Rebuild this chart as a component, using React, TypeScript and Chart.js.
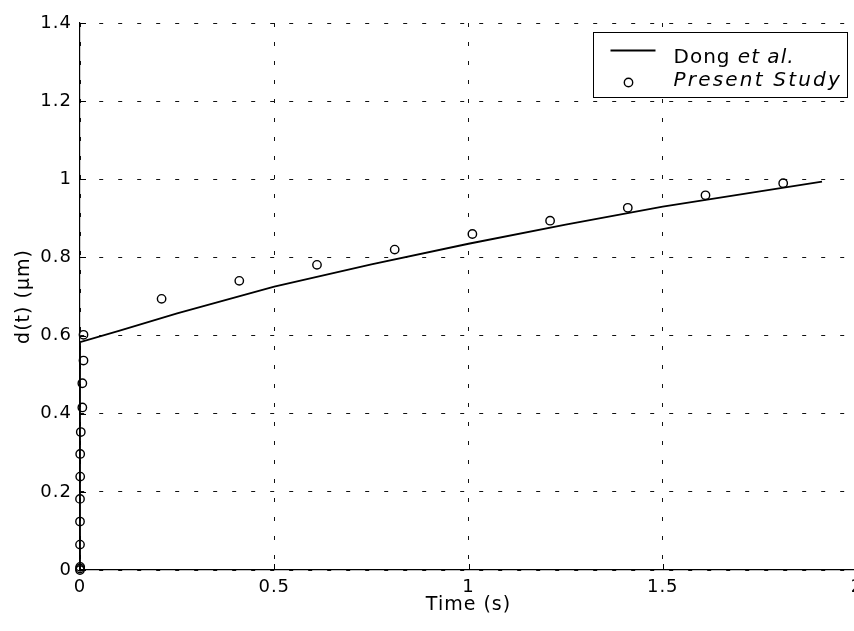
import React, { useEffect, useRef } from "react";
import { Chart, registerables } from "chart.js";
Chart.register(...registerables);

const xTicks = [0, 0.5, 1, 1.5, 2];
const xTickLabels = ["0", "0.5", "1", "1.5", "2"];
const yTicks = [0, 0.2, 0.4, 0.6, 0.8, 1, 1.2, 1.4];
const yTickLabels = ["0", "0.2", "0.4", "0.6", "0.8", "1", "1.2", "1.4"];

const xTitle = "Time (s)";
const yTitle = "d(t) (\u03bcm)";

const dongLabel = ["Dong ", "et al."];
const studyLabel = "Present Study";

const dongTime = [0, 0, 0.1, 0.25, 0.5, 0.75, 1.0, 1.25, 1.5, 1.75, 1.91];
const dongD = [0, 0.583, 0.612, 0.657, 0.725, 0.782, 0.835, 0.884, 0.93, 0.969, 0.994];

const studyTime = [0, 0, 0.0005, 0, 0, 0, 0.0005, 0.0005, 0.002, 0.006, 0.006, 0.009, 0.009, 0.21, 0.41, 0.61, 0.81, 1.01, 1.21, 1.41, 1.61, 1.81];
const studyD = [0, 0.004, 0.008, 0.065, 0.124, 0.182, 0.239, 0.297, 0.353, 0.416, 0.478, 0.536, 0.602, 0.694, 0.74, 0.781, 0.82, 0.86, 0.894, 0.927, 0.959, 0.99];

const FONT = "'DejaVu Sans', 'Liberation Sans', sans-serif";

const spacingPlugin = {
  id: "spacing",
  beforeDraw(chart: any) {
    try { chart.ctx.letterSpacing = "1px"; } catch (e) {}
  },
};

const ticksPlugin = {
  id: "inwardTicks",
  afterDatasetsDraw(chart: any) {
    const { ctx, chartArea, scales } = chart;
    ctx.save();
    ctx.strokeStyle = "#000";
    ctx.lineWidth = 1;
    ctx.beginPath();
    yTicks.forEach((v) => {
      const y = Math.round(scales.y.getPixelForValue(v)) + 0.5;
      ctx.moveTo(chartArea.left, y);
      ctx.lineTo(chartArea.left + 6, y);
    });
    xTicks.forEach((v) => {
      const x = Math.round(scales.x.getPixelForValue(v)) + 0.5;
      ctx.moveTo(x, chartArea.bottom);
      ctx.lineTo(x, chartArea.bottom - 6);
    });
    ctx.stroke();
    ctx.restore();
  },
};

const legendPlugin = {
  id: "customLegend",
  afterDraw(chart: any) {
    const { ctx, chartArea } = chart;
    const x1 = Math.round(chartArea.right - 264) + 0.5;
    const x2 = Math.round(chartArea.right - 10) + 0.5;
    const y1 = Math.round(chartArea.top + 9) + 0.5;
    const y2 = Math.round(chartArea.top + 74) + 0.5;
    ctx.save();
    ctx.fillStyle = "#fff";
    ctx.fillRect(x1, y1, x2 - x1, y2 - y1);
    ctx.strokeStyle = "#000";
    ctx.lineWidth = 1;
    ctx.strokeRect(x1, y1, x2 - x1, y2 - y1);
    ctx.lineWidth = 1.8;
    ctx.beginPath();
    ctx.moveTo(x1 + 17, y1 + 18);
    ctx.lineTo(x1 + 62, y1 + 18);
    ctx.stroke();
    ctx.lineWidth = 1.4;
    ctx.beginPath();
    ctx.arc(x1 + 35, y1 + 50, 4.2, 0, Math.PI * 2);
    ctx.stroke();
    ctx.fillStyle = "#000";
    ctx.textBaseline = "alphabetic";
    ctx.textAlign = "left";
    try { ctx.letterSpacing = "1px"; } catch (e) {}
    ctx.font = `20px ${FONT}`;
    const tx = x1 + 80;
    ctx.fillText(dongLabel[0], tx, y1 + 30);
    const w = ctx.measureText(dongLabel[0]).width;
    ctx.font = `italic 20px ${FONT}`;
    ctx.fillText(dongLabel[1], tx + w, y1 + 30);
    try { ctx.letterSpacing = "2.2px"; } catch (e) {}
    ctx.fillText(studyLabel, tx, y1 + 53);
    ctx.restore();
  },
};

export default function App() {
  const ref = useRef<HTMLCanvasElement | null>(null);
  useEffect(() => {
    if (!ref.current) return;
    const chart = new Chart(ref.current, {
      type: "scatter",
      data: {
        datasets: [
          {
            label: "Dong et al.",
            data: dongTime.map((t, i) => ({ x: t, y: dongD[i] })),
            showLine: true,
            borderColor: "#000",
            borderWidth: 1.8,
            pointRadius: 0,
            tension: 0,
            clip: false,
          } as any,
          {
            label: studyLabel,
            data: studyTime.map((t, i) => ({ x: t, y: studyD[i] })),
            showLine: false,
            pointStyle: "circle",
            pointRadius: 4.2,
            pointBorderWidth: 1.4,
            pointBorderColor: "#000",
            pointBackgroundColor: "rgba(0,0,0,0)",
            clip: false,
          } as any,
        ],
      },
      options: {
        responsive: false,
        animation: false,
        layout: { padding: { left: 0, right: 23, top: 23, bottom: 0 } },
        plugins: { legend: { display: false }, tooltip: { enabled: false } },
        scales: {
          x: {
            type: "linear",
            min: 0,
            max: 2,
            afterBuildTicks: (s: any) => {
              s.ticks = xTicks.map((v) => ({ value: v }));
            },
            afterFit: (s: any) => {
              s.height = 61;
            },
            ticks: {
              color: "#000",
              font: { family: FONT, size: 18 },
              padding: 7,
              maxRotation: 0,
              autoSkip: false,
              callback: (v: any) => xTickLabels[xTicks.indexOf(Number(v))] ?? "",
            },
            grid: { color: "#111", lineWidth: 1, drawTicks: false },
            border: { display: true, color: "#000", width: 1.2, dash: [4, 15] },
            title: {
              display: true,
              text: xTitle,
              color: "#000",
              font: { family: FONT, size: 19 },
              padding: { top: 0, bottom: 15 },
            },
          },
          y: {
            type: "linear",
            min: 0,
            max: 1.4,
            afterBuildTicks: (s: any) => {
              s.ticks = yTicks.map((v) => ({ value: v }));
            },
            afterFit: (s: any) => {
              s.width = 80;
            },
            ticks: {
              color: "#000",
              font: { family: FONT, size: 18 },
              padding: 8,
              autoSkip: false,
              callback: (v: any) => {
                const idx = yTicks.findIndex((t) => Math.abs(t - Number(v)) < 1e-6);
                return idx >= 0 ? yTickLabels[idx] : "";
              },
            },
            grid: { color: "#111", lineWidth: 1, drawTicks: false },
            border: { display: true, color: "#000", width: 1.2, dash: [4, 15] },
            title: {
              display: true,
              text: yTitle,
              color: "#000",
              font: { family: FONT, size: 19 },
              padding: { top: 13, bottom: 0 },
            },
          },
        },
      },
      plugins: [spacingPlugin, ticksPlugin, legendPlugin],
    } as any);
    return () => chart.destroy();
  }, []);
  return (
    <div
      style={{
        position: "fixed",
        left: 0,
        top: 0,
        width: 854,
        height: 631,
        overflow: "hidden",
        background: "#fff",
      }}
    >
      <canvas ref={ref} width={880} height={631} style={{ display: "block" }} />
    </div>
  );
}
